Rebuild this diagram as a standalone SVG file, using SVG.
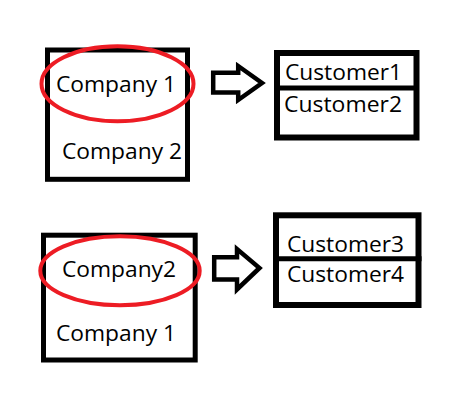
<svg xmlns="http://www.w3.org/2000/svg" width="460" height="409" viewBox="0 0 460 409">
<style>
.box{fill:none;stroke:#000;stroke-width:5}
.cbox{fill:none;stroke:#000;stroke-width:6}
.div{stroke:#000;stroke-width:5}
.ring{fill:none;stroke:#ED1C24;stroke-width:4}
.arrow{fill:#fff;stroke:#000;stroke-width:4.5;stroke-linejoin:miter}
text{font-family:"Open Sans","Noto Sans",sans-serif;font-size:22px;fill:#000}
</style>
<rect width="460" height="409" fill="#fff"/>
<g id="company-box-1">
<rect class="box" x="47.5" y="50" width="140" height="129.3"/>
<text x="56" y="92" textLength="120" lengthAdjust="spacingAndGlyphs">Company 1</text>
<text x="62" y="159" textLength="120" lengthAdjust="spacingAndGlyphs">Company 2</text>
<ellipse class="ring" cx="117.5" cy="83.8" rx="76" ry="37.5"/>
</g>
<g id="customer-box-1">
<rect class="cbox" x="277" y="53" width="139.5" height="84.5"/>
<line class="div" x1="279" y1="88" x2="419" y2="88"/>
<text x="285" y="80" textLength="117" lengthAdjust="spacingAndGlyphs">Customer1</text>
<text x="284" y="112" textLength="118" lengthAdjust="spacingAndGlyphs">Customer2</text>
</g>
<g id="company-box-2">
<rect class="box" x="43.5" y="235.2" width="151.7" height="124.8"/>
<text x="62" y="277" textLength="114" lengthAdjust="spacingAndGlyphs">Company2</text>
<text x="56" y="341" textLength="120" lengthAdjust="spacingAndGlyphs">Company 1</text>
<ellipse class="ring" cx="120" cy="270.8" rx="79.7" ry="34.5"/>
</g>
<g id="customer-box-2">
<rect class="cbox" x="276" y="215.3" width="142.5" height="89.7"/>
<line class="div" x1="278" y1="258.7" x2="421.5" y2="258.7"/>
<text x="287" y="252" textLength="117" lengthAdjust="spacingAndGlyphs">Customer3</text>
<text x="287" y="282" textLength="117" lengthAdjust="spacingAndGlyphs">Customer4</text>
</g>
<g id="connectors">
<polygon class="arrow" points="213.2,72.8 238.2,72.8 238.2,66 262,83 238.2,100 238.2,92.5 213.2,92.5"/>
<polygon class="arrow" points="214.2,257.2 237,257.2 237,249 259.5,268 237,289.5 237,279.5 214.2,279.5"/>
</g>
</svg>
